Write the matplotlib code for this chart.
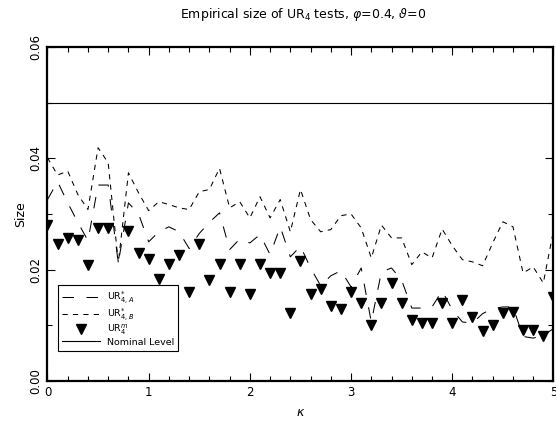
import numpy as np
import matplotlib
matplotlib.use("Agg")
import matplotlib.pyplot as plt
from matplotlib.ticker import MultipleLocator

# kappa grid and empirical sizes
kappa = np.round(np.arange(0, 5.01, 0.1), 1)

ur_a = [0.0326, 0.0358, 0.0320, 0.0285, 0.0252, 0.0352, 0.0352, 0.0212, 0.0320, 0.0300,
        0.0250, 0.0268, 0.0277, 0.0268, 0.0238, 0.0265, 0.0285, 0.0302, 0.0236, 0.0255,
        0.0248, 0.0263, 0.0227, 0.0277, 0.0223, 0.0242, 0.0203, 0.0171, 0.0189, 0.0198,
        0.0169, 0.0203, 0.0106, 0.0196, 0.0203, 0.0181, 0.0131, 0.0131, 0.0133, 0.0162,
        0.0128, 0.0106, 0.0104, 0.0121, 0.0130, 0.0133, 0.0133, 0.0080, 0.0077, 0.0082,
        0.0094]

ur_b = [0.0401, 0.0370, 0.0377, 0.0335, 0.0308, 0.0419, 0.0392, 0.0212, 0.0374, 0.0338,
        0.0306, 0.0322, 0.0317, 0.0311, 0.0308, 0.0340, 0.0344, 0.0382, 0.0311, 0.0322,
        0.0293, 0.0331, 0.0293, 0.0326, 0.0268, 0.0344, 0.0290, 0.0268, 0.0272, 0.0297,
        0.0300, 0.0275, 0.0221, 0.0280, 0.0257, 0.0257, 0.0209, 0.0232, 0.0221, 0.0273,
        0.0243, 0.0218, 0.0214, 0.0207, 0.0248, 0.0286, 0.0277, 0.0194, 0.0205, 0.0176,
        0.0270]

ur_m = [0.0281, 0.0246, 0.0257, 0.0254, 0.0209, 0.0275, 0.0275, 0.0140, 0.0270, 0.0230,
        0.0219, 0.0183, 0.0210, 0.0227, 0.0160, 0.0246, 0.0182, 0.0210, 0.0160, 0.0210,
        0.0157, 0.0210, 0.0194, 0.0194, 0.0122, 0.0215, 0.0157, 0.0165, 0.0135, 0.0130,
        0.0160, 0.0140, 0.0101, 0.0140, 0.0176, 0.0140, 0.0110, 0.0104, 0.0104, 0.0140,
        0.0104, 0.0146, 0.0115, 0.0090, 0.0101, 0.0122, 0.0124, 0.0092, 0.0092, 0.0081,
        0.0151]

nominal = 0.05

fig = plt.figure(figsize=(5.56, 4.30), dpi=100)
ax = fig.add_axes([0.0854, 0.114, 0.910, 0.7767])

ax.plot(kappa, ur_a, color='black', lw=0.75, dashes=(11, 12),
        label=r'UR$^{*}_{4,A}$')
ax.plot(kappa, ur_b, color='black', lw=0.75, dashes=(5, 5),
        label=r'UR$^{*}_{4,B}$')
ax.plot(kappa, ur_m, linestyle='none', marker='v', color='black', ms=6.5,
        label=r'UR$^{m}_{4}$')
ax.axhline(nominal, color='black', lw=0.8, label='Nominal Level')

ax.set_xlim(0, 5)
ax.set_ylim(0, 0.06)
ax.xaxis.set_major_locator(MultipleLocator(1))
ax.xaxis.set_minor_locator(MultipleLocator(0.2))
ax.yaxis.set_major_locator(MultipleLocator(0.02))
ax.yaxis.set_minor_locator(MultipleLocator(0.01))
ax.set_yticklabels(['%.2f' % v for v in ax.get_yticks()])
ax.tick_params(which='both', direction='in', top=True, right=True, labelsize=8.5)
ax.tick_params(which='major', length=6, width=0.8)
ax.tick_params(which='minor', length=3.5, width=0.8)
ax.tick_params(axis='y', labelrotation=90, pad=4)
for lbl in ax.get_yticklabels():
    lbl.set_va('center')
for sp in ax.spines.values():
    sp.set_linewidth(1.6)

ax.set_xlabel(r'$\kappa$', fontsize=9, labelpad=5)
ax.set_ylabel('Size', fontsize=9, labelpad=1)
fig.text(0.545, 0.967, r'Empirical size of UR$_4$ tests, $\varphi$=0.4, $\vartheta$=0',
         ha='center', va='center', fontsize=9)

leg = ax.legend(loc='lower left', bbox_to_anchor=(0.021, 0.09), borderaxespad=0,
                fontsize=6.8, handlelength=4.0, labelspacing=0.02, fancybox=False,
                edgecolor='black', framealpha=1, borderpad=0.45, handletextpad=0.7)
leg.get_frame().set_linewidth(0.8)

fig.savefig('out.png', dpi=100)
